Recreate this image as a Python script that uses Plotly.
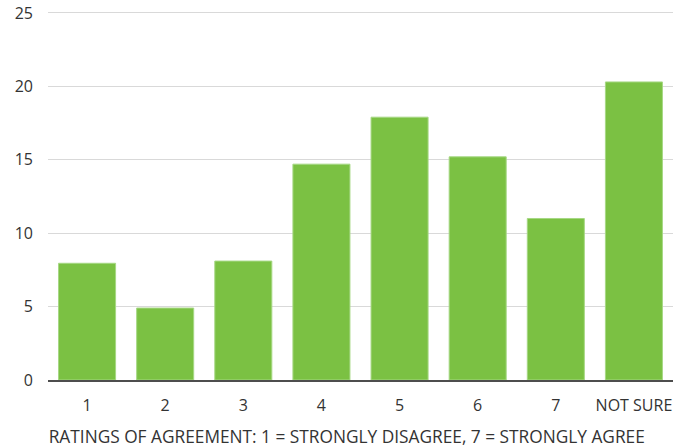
import plotly.graph_objects as go

categories = ["1", "2", "3", "4", "5", "6", "7", "NOT SURE"]
values = [7.95, 4.9, 8.1, 14.7, 17.9, 15.2, 11.0, 20.3]
y_ticks = [0, 5, 10, 15, 20, 25]
x_title = "RATINGS OF AGREEMENT: 1 = STRONGLY DISAGREE, 7 = STRONGLY AGREE"

FONT = "Open Sans, Noto Sans, sans-serif"
TEXT = "#333333"

fig = go.Figure(
    go.Bar(
        x=categories,
        y=values,
        marker=dict(color="#7BC143", line=dict(color="#A6D884", width=1)),
        hoverinfo="x+y",
    )
)

fig.update_layout(
    width=688,
    height=448,
    margin=dict(l=48, r=15, t=10, b=68),
    plot_bgcolor="white",
    paper_bgcolor="white",
    bargap=0.27,
    showlegend=False,
    font=dict(family=FONT, size=16, color=TEXT),
    title=dict(
        text=x_title,
        font=dict(size=17.3, color=TEXT),
        xref="container",
        yref="container",
        x=0.504,
        xanchor="center",
        y=0.0246,
        yanchor="middle",
    ),
    xaxis=dict(
        type="category",
        automargin=False,
        showline=True,
        linecolor="#4d4d4d",
        linewidth=1.5,
        showgrid=False,
        tickfont=dict(size=16, color=TEXT),
        ticklabelstandoff=10,
        ticks="",
    ),
    yaxis=dict(
        automargin=False,
        range=[0, 25.2],
        tickvals=y_ticks,
        showgrid=True,
        gridcolor="#d9d9d9",
        gridwidth=1,
        zeroline=False,
        showline=False,
        ticks="",
        ticklabelstandoff=14,
        tickfont=dict(size=16, color=TEXT),
    ),
)

fig.write_html(
    "out.html",
    config={"displayModeBar": False},
    post_script="document.body.style.margin='0';",
)
